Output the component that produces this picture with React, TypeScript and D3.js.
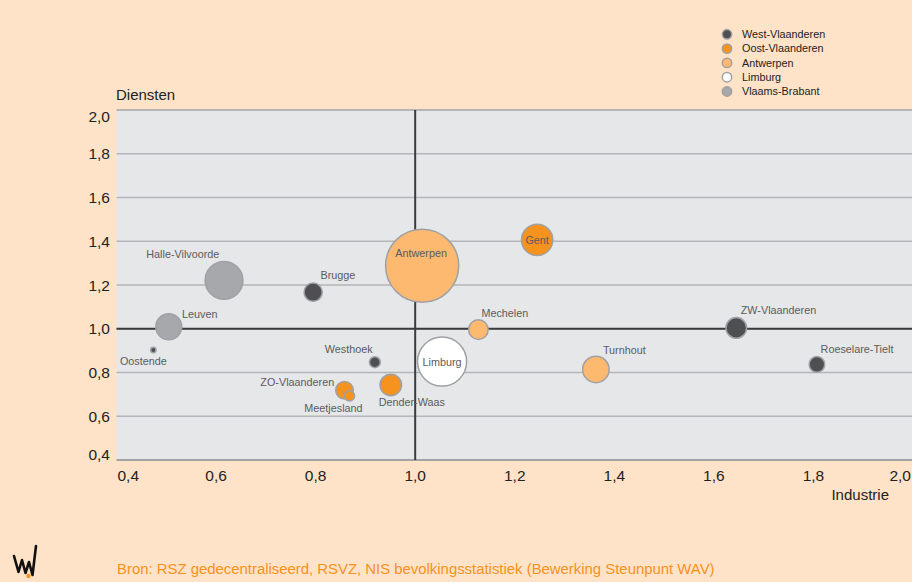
import React from "react";
import * as d3 from "d3";

// regio's (arrondissementen) met hun provincie
const regions = [
  "Antwerpen", "Gent", "Mechelen", "Limburg", "Halle-Vilvoorde", "Brugge", "Leuven", "Oostende",
  "Westhoek", "ZO-Vlaanderen", "Meetjesland", "Dender-Waas", "Turnhout", "ZW-Vlaanderen", "Roeselare-Tielt",
];
const provinceOf = [
  "Antwerpen", "Oost-Vlaanderen", "Antwerpen", "Limburg", "Vlaams-Brabant", "West-Vlaanderen", "Vlaams-Brabant",
  "West-Vlaanderen", "West-Vlaanderen", "Oost-Vlaanderen", "Oost-Vlaanderen", "Oost-Vlaanderen", "Antwerpen",
  "West-Vlaanderen", "West-Vlaanderen",
];
const industrie = [1.014, 1.245, 1.127, 1.054, 0.616, 0.795, 0.505, 0.474, 0.919, 0.858, 0.868, 0.951, 1.363, 1.645, 1.807];
const diensten = [1.288, 1.406, 0.996, 0.85, 1.221, 1.167, 1.009, 0.903, 0.847, 0.719, 0.693, 0.743, 0.814, 1.004, 0.837];
const omvang = [400, 77, 32, 184, 111, 28, 54, 3.4, 11, 26, 10, 38, 56, 35, 21];

const provinces = ["West-Vlaanderen", "Oost-Vlaanderen", "Antwerpen", "Limburg", "Vlaams-Brabant"];
const ticks = [0.4, 0.6, 0.8, 1.0, 1.2, 1.4, 1.6, 1.8, 2.0];
const source = "Bron: RSZ gedecentraliseerd, RSVZ, NIS bevolkingsstatistiek (Bewerking Steunpunt WAV)";

const colors = {
  "West-Vlaanderen": "#4f4f52",
  "Oost-Vlaanderen": "#f6921e",
  Antwerpen: "#fdb96f",
  Limburg: "#ffffff",
  "Vlaams-Brabant": "#a7a8ab",
};

// label placement: [dx, dy, anchor]
const labelPos = {
  Antwerpen: [-1, -8.5, "middle"],
  Gent: [0, 4, "middle"],
  Limburg: [0, 4, "middle"],
  Mechelen: [3, -12.7, "start"],
  "Halle-Vilvoorde": [-4.7, -22, "end"],
  Brugge: [7.4, -13, "start"],
  Leuven: [13.3, -8.4, "start"],
  Oostende: [-10, 15, "middle"],
  Westhoek: [-2.3, -9.6, "end"],
  "ZO-Vlaanderen": [-10.3, -4.3, "end"],
  Meetjesland: [-16, 15.7, "middle"],
  "Dender-Waas": [21, 21, "middle"],
  Turnhout: [7, -15.5, "start"],
  "ZW-Vlaanderen": [4.5, -13.5, "start"],
  "Roeselare-Tielt": [3.7, -11, "start"],
};

const W = 912;
const H = 582;
const font = "'Liberation Sans', Arial, sans-serif";

export default function App() {
  const x = d3.scaleLinear().domain([0.4, 2.0]).range([116.5, 913]);
  const y = d3.scaleLinear().domain([0.4, 2.0]).range([460, 110]);
  const r = d3.scaleSqrt().domain([0, 400]).range([0, 37.3]);
  const fmt = (v) => d3.format(".1f")(v).replace(".", ",");
  const last = ticks.length - 1;

  const points = regions
    .map((name, i) => ({
      name,
      prov: provinceOf[i],
      x: industrie[i],
      y: diensten[i],
      size: omvang[i],
    }))
    .sort((a, b) => b.size - a.size);

  return (
    <svg width={W} height={H} style={{ position: "absolute", left: 0, top: 0 }} fontFamily={font}>
      <rect width={W} height={H} fill="#fee3c8" />

      {/* plot area */}
      <rect x={x(0.4)} y={y(2.0)} width={x(2.0) - x(0.4)} height={y(0.4) - y(2.0)} fill="#e6e7e8" />
      {ticks.map((t) => (
        <line key={"g" + t} x1={x(0.4)} x2={W} y1={y(t)} y2={y(t)}
          stroke={t === 0.4 || t === 2.0 ? "#a2a3a6" : "#b4b5b8"} strokeWidth={t === 0.4 ? 2 : 1.5} />
      ))}
      <line x1={x(0.4)} x2={W} y1={y(1.0)} y2={y(1.0)} stroke="#3b3b3d" strokeWidth={2} />
      <line x1={x(1.0)} x2={x(1.0)} y1={y(2.0)} y2={y(0.4)} stroke="#3b3b3d" strokeWidth={2} />

      {/* y axis */}
      {ticks.map((t, i) => (
        <text key={"y" + t} x={110} y={y(t) + 5.5 + (i === 0 ? -6 : i === last ? 6 : 0)}
          textAnchor="end" fontSize={15.5} fill="#222">{fmt(t)}</text>
      ))}
      <text x={116} y={100} fontSize={15} fill="#222">Diensten</text>

      {/* x axis */}
      {ticks.map((t, i) => (
        <text key={"x" + t} x={i === 0 ? x(t) + 1 : i === last ? W - 1 : x(t)} y={481}
          textAnchor={i === 0 ? "start" : i === last ? "end" : "middle"}
          fontSize={15.5} fill="#222">{fmt(t)}</text>
      ))}
      <text x={889} y={500} textAnchor="end" fontSize={15} fill="#222">Industrie</text>

      {/* bubbles */}
      {points.map((d) => (
        <circle key={d.name} cx={x(d.x)} cy={y(d.y)} r={Math.max(r(d.size) - 0.75, 2)}
          fill={colors[d.prov]} stroke="#a0a1a4" strokeWidth={1.5} />
      ))}
      {points.map((d) => {
        const [dx, dy, anchor] = labelPos[d.name];
        return (
          <text key={"l" + d.name} x={x(d.x) + dx} y={y(d.y) + dy} textAnchor={anchor}
            fontSize={10.8} fill="#5b5b5d">{d.name}</text>
        );
      })}

      {/* legend */}
      {provinces.map((p, i) => (
        <g key={p} transform={`translate(727, ${34.3 + i * 14.3})`}>
          <circle r={4.7} fill={colors[p]} stroke="#a0a1a4" strokeWidth={1.5} />
          <text x={15} y={3.8} fontSize={10.8} fill="#222">{p}</text>
        </g>
      ))}

      {/* footer */}
      <path d="M14,556 L18.5,572 L22,560 L25.5,573 L29,562 L32.5,575 L36,546"
        fill="none" stroke="#111" strokeWidth={2.6} strokeLinejoin="round" strokeLinecap="round" />
      <circle cx={28.5} cy={576} r={2.2} fill="#f6921e" />
      <text x={117} y={574} fontSize={14.9} fill="#f6921e">{source}</text>
    </svg>
  );
}
